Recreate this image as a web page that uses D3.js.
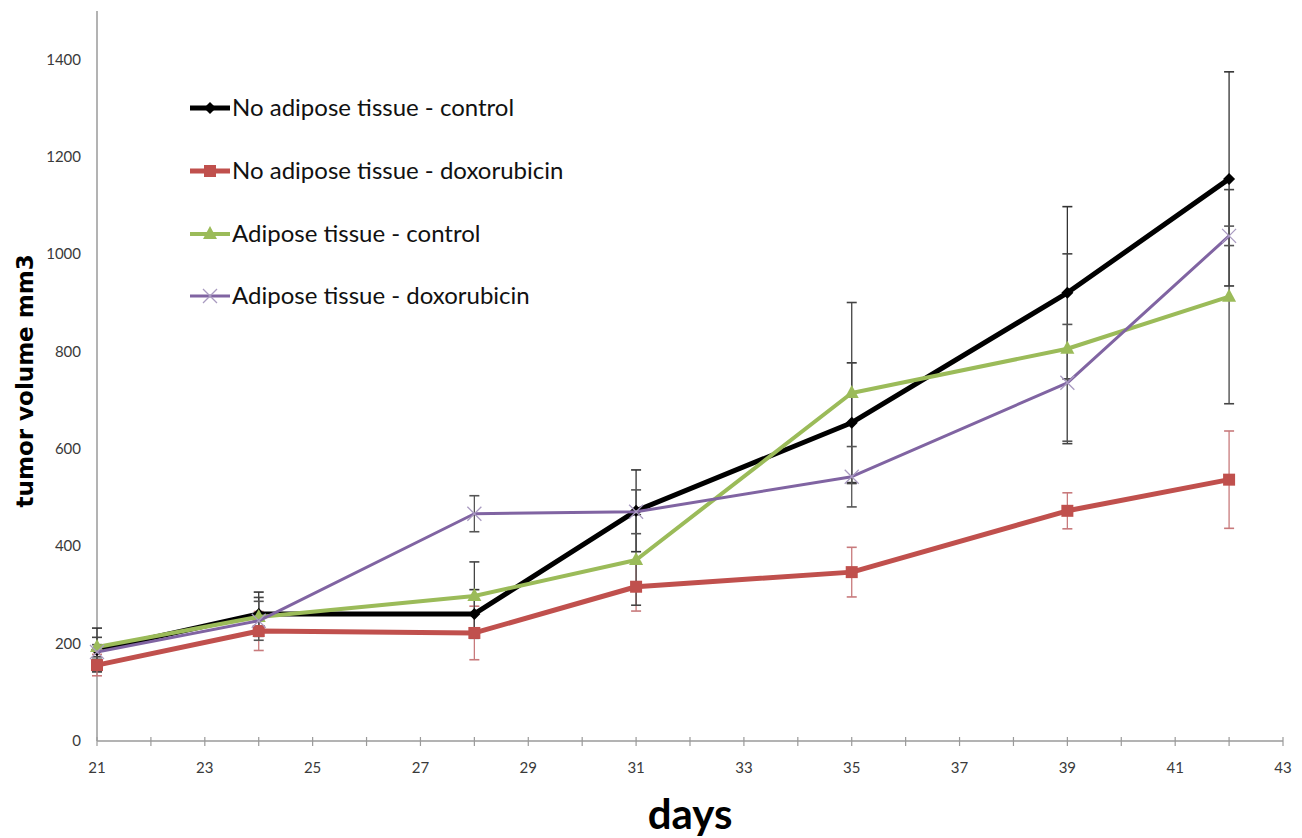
<!DOCTYPE html>
<html>
<head>
<meta charset="utf-8">
<script src="https://cdn.jsdelivr.net/npm/d3@7"></script>
<style>
  body { margin: 0; background: #fff; }
  svg { display: block; }
</style>
</head>
<body>
<svg id="chart"></svg>
<script>
const days = [21, 24, 28, 31, 35, 39, 42];
const noAdiposeControl = [187, 261, 261, 473, 654, 921, 1155];
const noAdiposeControlErr = [45, 45, 50, 84, 123, 177, 220];
const noAdiposeDoxo = [156, 226, 222, 317, 347, 473, 537];
const noAdiposeDoxoErr = [22, 40, 55, 50, 51, 37, 100];
const adiposeControl = [193, 255, 298, 372, 715, 806, 913];
const adiposeControlErr = [20, 40, 70, 93, 186, 195, 220];
const adiposeDoxo = [183, 247, 467, 471, 543, 736, 1038];
const adiposeDoxoErr = [15, 40, 37, 45, 62, 120, 20];
const seriesNames = [
  "No adipose tissue - control",
  "No adipose tissue - doxorubicin",
  "Adipose tissue - control",
  "Adipose tissue - doxorubicin"
];
const yTickValues = [0, 200, 400, 600, 800, 1000, 1200, 1400];
const xMinorTicks = d3.range(21, 44, 1);
const xLabelTicks = d3.range(21, 44, 2);

const width = 1302, height = 838;
const svg = d3.select("#chart").attr("width", width).attr("height", height);

const x = d3.scaleLinear().domain([21, 43]).range([97, 1283]);
const y = d3.scaleLinear().domain([0, 1500]).range([741, 11]);

const styles = [
  { color: "#000000", width: 5, marker: "diamond", errColor: "#333" },
  { color: "#c0504d", width: 5, marker: "square", errColor: "#c87a7c" },
  { color: "#9bbb59", width: 4, marker: "triangle", errColor: "#444" },
  { color: "#8064a2", width: 3, marker: "cross", errColor: "#555" }
];

const series = [
  { name: seriesNames[0], values: noAdiposeControl, errs: noAdiposeControlErr },
  { name: seriesNames[1], values: noAdiposeDoxo, errs: noAdiposeDoxoErr },
  { name: seriesNames[2], values: adiposeControl, errs: adiposeControlErr },
  { name: seriesNames[3], values: adiposeDoxo, errs: adiposeDoxoErr }
].map((s, i) => ({ ...s, style: styles[i], points: days.map((d, j) => ({ day: d, v: s.values[j], e: s.errs[j] })) }));

// axes
const axisColor = "#9a9a9a";
svg.append("line")
  .attr("x1", x(21)).attr("x2", x(21))
  .attr("y1", y(1500)).attr("y2", y(0))
  .attr("stroke", axisColor).attr("stroke-width", 1.5);

svg.append("line")
  .attr("x1", x(21)).attr("x2", x(43))
  .attr("y1", y(0)).attr("y2", y(0))
  .attr("stroke", axisColor).attr("stroke-width", 1.5);

svg.append("g").selectAll("line")
  .data(xMinorTicks)
  .enter().append("line")
  .attr("x1", d => x(d)).attr("x2", d => x(d))
  .attr("y1", y(0) - 4).attr("y2", y(0) + 5)
  .attr("stroke", axisColor).attr("stroke-width", 1.2);

svg.append("g").selectAll("text")
  .data(xLabelTicks)
  .enter().append("text")
  .attr("x", d => x(d)).attr("y", y(0) + 32)
  .attr("text-anchor", "middle")
  .attr("font-family", "Lato, 'Open Sans', sans-serif")
  .attr("font-size", 15)
  .attr("fill", "#3a3a3a")
  .text(d => d);

svg.append("g").selectAll("text")
  .data(yTickValues)
  .enter().append("text")
  .attr("x", 81).attr("y", d => y(d) + 5)
  .attr("text-anchor", "end")
  .attr("font-family", "Lato, 'Open Sans', sans-serif")
  .attr("font-size", 15)
  .attr("fill", "#3a3a3a")
  .text(d => d);

// axis titles
svg.append("text")
  .attr("transform", `translate(33, ${y(740)}) rotate(-90)`)
  .attr("text-anchor", "middle")
  .attr("font-family", "'DejaVu Sans', Verdana, sans-serif")
  .attr("font-weight", "bold")
  .attr("font-size", 23)
  .attr("fill", "#000")
  .text("tumor volume mm3");

svg.append("text")
  .attr("x", 690).attr("y", 829)
  .attr("text-anchor", "middle")
  .attr("font-family", "Lato, 'Open Sans', sans-serif")
  .attr("font-weight", "bold")
  .attr("font-size", 42)
  .attr("fill", "#000")
  .text("days");

// error bars
const capHalf = 5;
series.forEach(s => {
  const g = svg.append("g").attr("class", "err");
  const pts = s.points;
  g.selectAll("line.stem").data(pts).enter().append("line")
    .attr("x1", d => x(d.day)).attr("x2", d => x(d.day))
    .attr("y1", d => y(d.v + d.e)).attr("y2", d => y(d.v - d.e))
    .attr("stroke", s.style.errColor).attr("stroke-width", 1.3);
  g.selectAll("line.top").data(pts).enter().append("line")
    .attr("x1", d => x(d.day) - capHalf).attr("x2", d => x(d.day) + capHalf)
    .attr("y1", d => y(d.v + d.e)).attr("y2", d => y(d.v + d.e))
    .attr("stroke", s.style.errColor).attr("stroke-width", 1.6);
  g.selectAll("line.bot").data(pts).enter().append("line")
    .attr("x1", d => x(d.day) - capHalf).attr("x2", d => x(d.day) + capHalf)
    .attr("y1", d => y(d.v - d.e)).attr("y2", d => y(d.v - d.e))
    .attr("stroke", s.style.errColor).attr("stroke-width", 1.6);
});

// lines
const line = d3.line().x(d => x(d.day)).y(d => y(d.v)).curve(d3.curveLinear);

function drawMarker(g, type, cx, cy, color) {
  if (type === "diamond") {
    g.append("path").attr("d", `M${cx},${cy - 6}L${cx + 6},${cy}L${cx},${cy + 6}L${cx - 6},${cy}Z`).attr("fill", color);
  } else if (type === "square") {
    g.append("rect").attr("x", cx - 6).attr("y", cy - 6).attr("width", 12).attr("height", 12).attr("fill", color);
  } else if (type === "triangle") {
    g.append("path").attr("d", `M${cx},${cy - 8}L${cx + 7},${cy + 5}L${cx - 7},${cy + 5}Z`).attr("fill", color);
  } else if (type === "cross") {
    g.append("path").attr("d", `M${cx - 7},${cy - 7}L${cx + 7},${cy + 7}M${cx - 7},${cy + 7}L${cx + 7},${cy - 7}`)
      .attr("stroke", "#a99bc0").attr("stroke-width", 1.3).attr("fill", "none");
  }
}

series.forEach(s => {
  svg.append("path")
    .datum(s.points)
    .attr("fill", "none")
    .attr("stroke", s.style.color)
    .attr("stroke-width", s.style.width)
    .attr("stroke-linejoin", "round")
    .attr("d", line);
  const mg = svg.append("g");
  s.points.forEach(p => drawMarker(mg, s.style.marker, x(p.day), y(p.v), s.style.color));
});

// legend
const legendRows = [108, 171, 234, 296];
series.forEach((s, i) => {
  const g = svg.append("g").attr("transform", `translate(0, ${legendRows[i]})`);
  g.append("line").attr("x1", 190).attr("x2", 230).attr("y1", 0).attr("y2", 0)
    .attr("stroke", s.style.color).attr("stroke-width", s.style.width);
  drawMarker(g, s.style.marker, 210, 0, s.style.color);
  g.append("text")
    .attr("x", 232).attr("y", 8)
    .attr("font-family", "Lato, 'Open Sans', sans-serif")
    .attr("font-size", 24)
    .attr("fill", "#111")
    .text(s.name);
});
</script>
</body>
</html>
